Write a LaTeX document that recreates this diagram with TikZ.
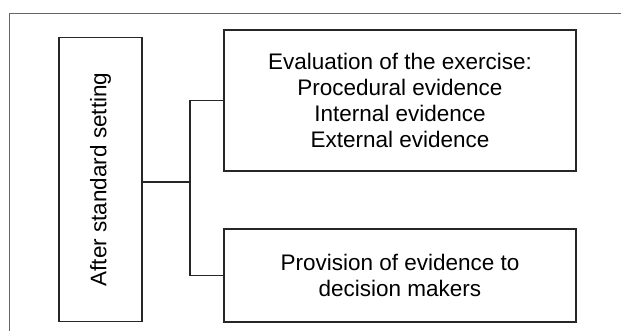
\documentclass[tikz,border=0pt]{standalone}
\usepackage{fontspec}
\setmainfont{Liberation Sans}
\begin{document}
\begin{tikzpicture}[x=1pt,y=-1pt,
  boxstyle/.style={draw=black!85, line width=1.2pt, inner sep=0pt, align=center,
    font=\fontsize{22.5}{26}\selectfont, text=black},
  linkstyle/.style={draw=black!85, line width=1.2pt},
  framestyle/.style={draw=black!60, line width=1.6pt}]
\useasboundingbox (0,0) rectangle (621,331);
\clip (0,0) rectangle (621,331);
\draw[framestyle] (9.5,345) -- (9.5,13.5) -- (640,13.5);
\node[boxstyle, minimum width=83pt, minimum height=284pt] (after) at (100.5,179.5)
  {\rotatebox{90}{After standard setting}};
\node[boxstyle, minimum width=352pt, minimum height=141pt] (eval) at (400,100.5)
  {Evaluation of the exercise:\\Procedural evidence\\Internal evidence\\External evidence};
\node[boxstyle, minimum width=352pt, minimum height=93pt] (prov) at (400,275.5)
  {Provision of evidence to\\decision makers};
\coordinate (mid) at (190,182);
\draw[linkstyle] (after.east |- mid) -- (mid);
\draw[linkstyle] (eval.west) -| (mid) |- (prov.west);
\end{tikzpicture}
\end{document}
